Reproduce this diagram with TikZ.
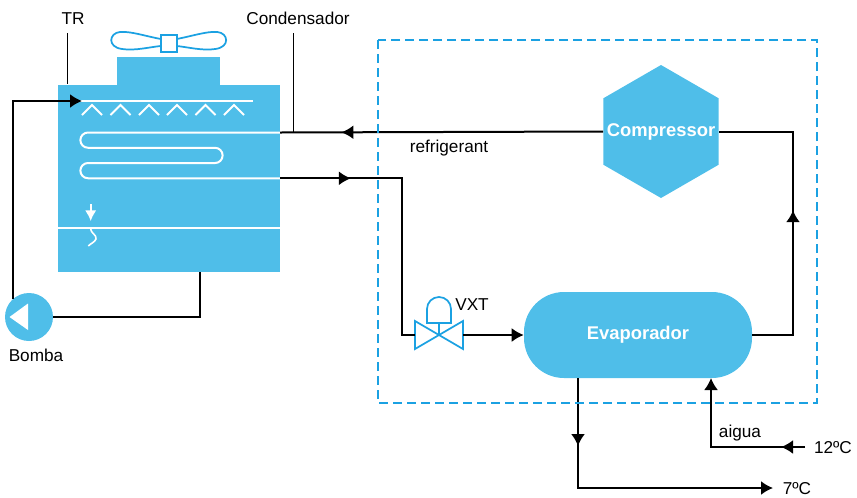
\documentclass[tikz,border=0pt]{standalone}
\usepackage{fontspec}
\setmainfont{Liberation Sans}
\usetikzlibrary{arrows.meta}
\usetikzlibrary{decorations.markings}
\usetikzlibrary{shapes.geometric}
\tikzset{>=latex}
\definecolor{plantblue}{RGB}{79,190,233}
\definecolor{lineblue}{RGB}{27,161,226}
\tikzset{
  pipe/.style={draw=black,line width=1.5pt},
  flowend/.style={-{Latex[length=9pt,width=10.5pt]}},
  flow at/.style={postaction={decorate,decoration={markings,
      mark=at position #1 with {\arrow{Latex[length=9pt,width=10.5pt]}}}}},
  whiteline/.style={draw=white,line width=1.5pt},
  bladeline/.style={draw=lineblue,line width=1.3pt,fill=white},
  unitlabel/.style={text=white,font=\bfseries\fontsize{13.8}{16}\selectfont},
  unit/.style={fill=plantblue,inner sep=0pt,unitlabel},
  tag/.style={inner sep=0pt,text height=9.2pt,text depth=0pt,
      font=\fontsize{12.9}{15}\selectfont},
}

\begin{document}
\begin{tikzpicture}[x=0.75pt,y=-0.75pt]
  \useasboundingbox (0,0) rectangle (857,497);

  % torre de refrigeracio
  \fill[plantblue] (117,57) rectangle (220,85.5);
  \fill[plantblue] (58,85) rectangle (280,272);
  \draw[bladeline] (160.7,39) .. controls (145,36) and (130,31) .. (120,32)
    .. controls (109,33) and (107,47) .. (122,49)
    .. controls (135,51) and (150,47) .. (160.7,46);
  \draw[bladeline] (176.7,39) .. controls (192.4,36) and (207.4,31) .. (217.4,32)
    .. controls (228.4,33) and (230.4,47) .. (215.4,49)
    .. controls (202.4,51) and (187.4,47) .. (176.7,46);
  \draw[bladeline] (160.7,35) rectangle (176.7,52);
  \coordinate (coilin) at (280,132.5);
  \coordinate (coilout) at (280,178.3);
  \coordinate (spray) at (82,101);
  \coordinate (basin) at (200,272);
  \draw[whiteline] (80,101) -- (253,101);
  \foreach \x in {92,120.5,149,177,205.5,234}
    \draw[whiteline] (\x-10,115) -- (\x,105) -- (\x+10,115);
  \draw[whiteline] (coilin) -- (88,132.5) arc[start angle=90,end angle=270,radius=5.72pt]
    -- (215,147.8) arc[start angle=90,end angle=-90,radius=5.72pt]
    -- (88,163) arc[start angle=90,end angle=270,radius=5.72pt] -- (coilout);
  \draw[whiteline] (58,228) -- (280,228);
  \draw[white,line width=1.2pt,-{Latex[length=8pt,width=8.5pt]}] (90.7,204) -- (90.7,221);
  \draw[white,line width=1.2pt] (90.7,229) .. controls (90.7,233) and (97,235) .. (96,239)
    .. controls (95,242) and (90,244) .. (88.3,246);

  % bomba
  \node[circle,fill=plantblue,minimum size=36pt,inner sep=0pt] (pump) at (29,317) {};
  \fill[white] (9.5,317) -- (28,303.5) -- (28,330) -- cycle;

  % valvula d'expansio
  \coordinate (valvein) at (415,335);
  \coordinate (valveout) at (463,335);
  \draw[lineblue,line width=1.3pt] (valvein) -- (415,321) -- (463,349) -- (463,321) -- (415,349) -- cycle;
  \draw[lineblue,line width=1.3pt] (439,335) -- (439,323);
  \draw[lineblue,line width=1.3pt] (427,323) -- (427,309) arc[start angle=180,end angle=0,radius=9pt]
    -- (451,323) -- cycle;

  \node[regular polygon,regular polygon sides=6,shape border rotate=30,
    fill=plantblue,inner sep=0pt,minimum size=99.75pt,
    label={[unitlabel]center:Compressor}] (compressor) at (661,131.5) {};
  \node[unit,rectangle,rounded corners=30pt,minimum width=171pt,
    minimum height=64.5pt] (evaporator) at (638,335) {Evaporador};

  \coordinate (evapout) at (578,378);
  \coordinate (evapin) at (711,378);
  \coordinate (waterout) at (773,488);
  \coordinate (waterin) at (805,447);

  % circuits
  \draw[pipe,flow at=0.81] (compressor.west) -- (coilin);
  \draw[pipe,flow at=0.243] (coilout) -| (402,335) -- (valvein);
  \draw[pipe,flowend] (valveout) -- (evaporator.west);
  \draw[pipe,flow at=0.52] (evaporator.east) -- (793,335) |- (compressor.east);
  \draw[pipe,flow at=0.223,flowend] (evapout) |- (waterout);
  \draw[pipe,flow at=0.147,flowend] (waterin) -| (evapin);
  \draw[pipe] (basin) |- (pump.east);
  \draw[pipe,flowend] (pump.132) |- (spray);

  \draw[lineblue,line width=2pt,dash pattern=on 7pt off 3.5pt] (378,40) rectangle (817,403);

  \node[tag] (trlabel) at (73,18) {TR};
  \node[tag] (condlabel) at (298,18) {Condensador};
  \draw[line width=0.75pt] (67,33) -- (67,84);
  \draw[line width=0.75pt] (293,33) -- (coilin -| 293,0);
  \node[tag] (refrig) at (449,146) {refrigerant};
  \node[tag] (vxt) at (472,304) {VXT};
  \node[tag] (bomba) at (36,355) {Bomba};
  \node[tag] (aigua) at (740,431) {aigua};
  \node[tag] (hot) at (833,447) {12ºC};
  \node[tag] (cold) at (797,488) {7ºC};
\end{tikzpicture}
\end{document}
